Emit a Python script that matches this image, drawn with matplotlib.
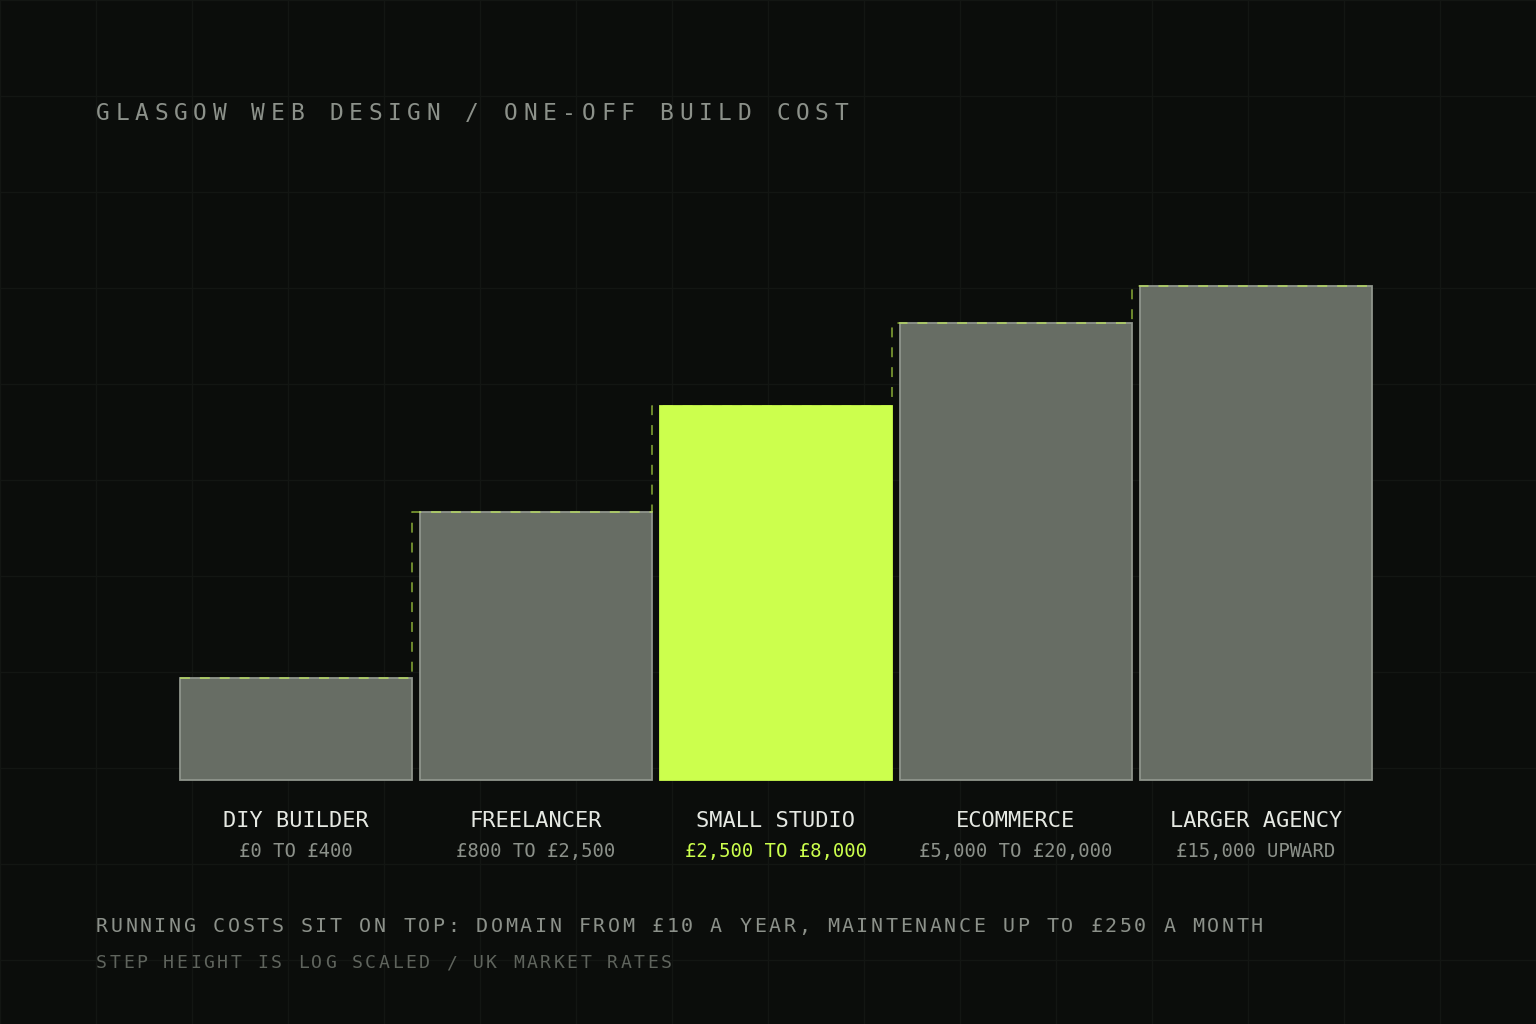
import matplotlib.pyplot as plt
import matplotlib.transforms as mtransforms
import numpy as np

# --- data ---
categories = ["DIY BUILDER", "FREELANCER", "SMALL STUDIO", "ECOMMERCE", "LARGER AGENCY"]
ranges = ["£0 TO £400", "£800 TO £2,500", "£2,500 TO £8,000", "£5,000 TO £20,000", "£15,000 UPWARD"]
step_tops = [400, 2500, 8000, 20000, 30000]   # upper end of each band (log scaled)
log_floor = 130
highlight = 2

title = "GLASGOW WEB DESIGN / ONE-OFF BUILD COST"
footer1 = "RUNNING COSTS SIT ON TOP: DOMAIN FROM £10 A YEAR, MAINTENANCE UP TO £250 A MONTH"
footer2 = "STEP HEIGHT IS LOG SCALED / UK MARKET RATES"

# --- style ---
BG = "#0b0d0b"
GRID = "#131613"
BAR = "#676d64"
BAR_EDGE = "#8f958c"
LIME = "#ccff4d"
TXT_LIGHT = "#e6e9e3"
TXT_MID = "#8c918a"
TXT_DIM = "#5f645d"
MONO = "DejaVu Sans Mono"

W, H = 1536, 1024
fig = plt.figure(figsize=(W / 100, H / 100), dpi=100, facecolor=BG)

# background layer in pixel coords (y down) with the faint grid
bg = fig.add_axes([0, 0, 1, 1], zorder=0)
bg.set_xlim(0, W)
bg.set_ylim(H, 0)
bg.set_facecolor(BG)
bg.axis("off")
for gx in range(0, W + 1, 96):
    bg.axvline(gx, color=GRID, lw=1)
for gy in range(0, H + 1, 96):
    bg.axhline(gy, color=GRID, lw=1)

# chart axes
left, right, base_y, top_y = 180, 1372, 780, 286
ax = fig.add_axes([left / W, (H - base_y) / H, (right - left) / W, (base_y - top_y) / H], zorder=1)
ax.set_facecolor("none")
ax.set_yscale("log")
ax.set_ylim(log_floor, step_tops[-1])
bw = 232 / 240
x = np.arange(len(categories))
ax.set_xlim(-bw / 2, x[-1] + bw / 2)
ax.axis("off")

tops = np.array(step_tops, dtype=float)
colors = [LIME if i == highlight else BAR for i in x]
edges = [LIME if i == highlight else BAR_EDGE for i in x]
ax.bar(x, tops - log_floor, bottom=log_floor, width=bw, color=colors,
       edgecolor=edges, linewidth=1.3, clip_on=False, zorder=2)

# dashed staircase through the tops
sx = np.concatenate([[x[0] - bw / 2], x + bw / 2])
sy = np.concatenate([[tops[0]], tops])
ax.step(sx, sy, where="pre", color=LIME, alpha=0.55, lw=1.3,
        ls=(0, (5.5, 5.5)), clip_on=False, zorder=3)

# labels under each bar
lab_tr = mtransforms.blended_transform_factory(ax.transData, bg.transData)
for i, (cat, rng) in enumerate(zip(categories, ranges)):
    ax.text(i, 827, cat, transform=lab_tr, ha="center", va="baseline",
            fontsize=15.8, family=MONO, color=TXT_LIGHT, clip_on=False)
    ax.text(i, 857, rng, transform=lab_tr, ha="center", va="baseline",
            fontsize=13.6, family=MONO, color=LIME if i == highlight else TXT_MID,
            clip_on=False)


def spaced(s, x0, y, pitch, size, color):
    # monospace text with extra letter spacing, one glyph per cell
    for k, ch in enumerate(s):
        if ch != " ":
            bg.text(x0 + k * pitch, y, ch, ha="left", va="baseline",
                    fontsize=size, family=MONO, color=color)


spaced(title, 96, 120, 19.43, 16.5, TXT_MID)
spaced(footer1, 96, 932, 14.62, 14.4, TXT_MID)
spaced(footer2, 96, 968, 13.45, 13.1, TXT_DIM)

fig.savefig("out.png", dpi=100, facecolor=BG)
